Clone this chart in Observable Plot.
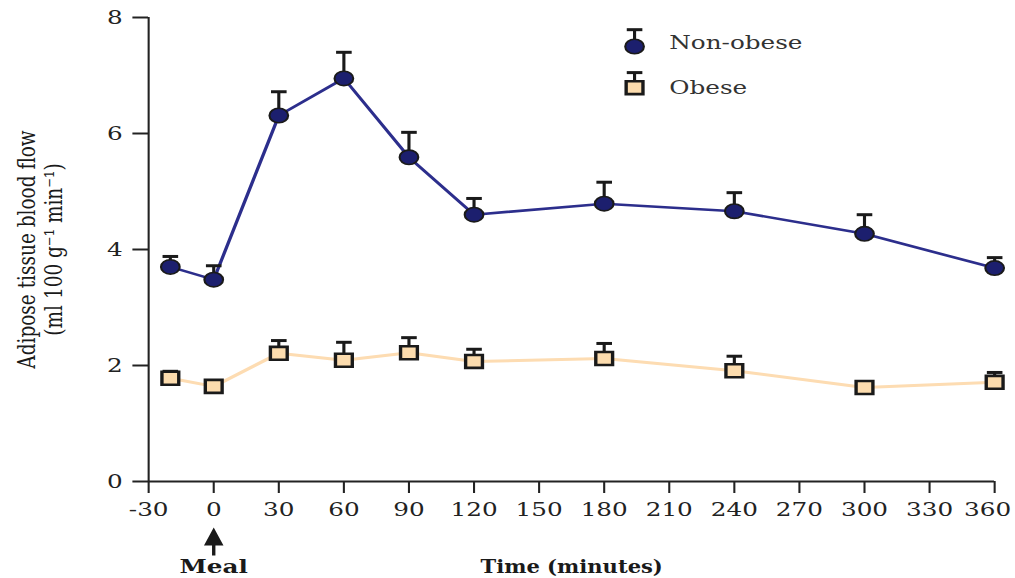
<!DOCTYPE html>
<html><head><meta charset="utf-8">
<script src="https://cdn.jsdelivr.net/npm/d3@7"></script>
<script src="https://cdn.jsdelivr.net/npm/@observablehq/plot@0.6"></script>
<style>html,body{margin:0;padding:0;background:#fff}#chart svg{display:block;overflow:visible}</style>
</head><body><div id="chart"></div>
<script>
// ---- data ----
const times = [-20, 0, 30, 60, 90, 120, 180, 240, 300, 360];
const nonObeseMean  = [3.70, 3.48, 6.31, 6.95, 5.59, 4.60, 4.79, 4.66, 4.27, 3.68];
const nonObeseUpper = [3.88, 3.72, 6.72, 7.40, 6.02, 4.88, 5.16, 4.98, 4.60, 3.86];
const obeseMean  = [1.78, 1.64, 2.21, 2.09, 2.22, 2.07, 2.12, 1.91, 1.62, 1.71];
const obeseUpper = [1.90, null, 2.43, 2.40, 2.48, 2.28, 2.38, 2.16, null, 1.88];
const seriesNames = ["Non-obese", "Obese"];
const xTicks = [-30, 0, 30, 60, 90, 120, 150, 180, 210, 240, 270, 300, 330, 360];
const yTicks = [0, 2, 4, 6, 8];
const mealTime = 0;
const xTitle = "Time (minutes)";
const mealLabel = "Meal";
const yTitle = "Adipose tissue blood flow\n(ml 100 g\u207B\u00B9 min\u207B\u00B9)";

// ---- layout ----
const SCALE = 1.3, WIDTH = 1015, HEIGHT = 578;
const W = WIDTH / SCALE;
const navyLine = "#2c2e8c", navyFill = "#1c1f6e", peachLine = "#fddcb2", peachFill = "#fcdcae", ink = "#1a1a1a";

const nonObese = times.map((t, i) => ({t, mean: nonObeseMean[i], upper: nonObeseUpper[i]}));
const obese = times.map((t, i) => ({t, mean: obeseMean[i], upper: obeseUpper[i]}));
const withErr = arr => arr.filter(d => d.upper != null && d.upper > d.mean);

const capSymbol = {draw(ctx) { ctx.moveTo(-6, 0); ctx.lineTo(6, 0); }};
const arrowSymbol = {draw(ctx) {
  ctx.moveTo(0, -14); ctx.lineTo(7.5, 4); ctx.lineTo(1.3, 4); ctx.lineTo(1.3, 14);
  ctx.lineTo(-1.3, 14); ctx.lineTo(-1.3, 4); ctx.lineTo(-7.5, 4); ctx.closePath();
}};

// legend placement (data coordinates)
const legX = 194, legTextX = 210;
const legend = [
  {label: seriesNames[0], y: 7.50, cap: 7.79, textY: 7.57},
  {label: seriesNames[1], y: 6.79, cap: 7.05, textY: 6.79}
];

const lastTick = xTicks[xTicks.length - 1];
const fmt = d => String(d);
const fmtX = d => (d === lastTick ? "" : String(d));

const chart = Plot.plot({
  width: W, height: HEIGHT,
  marginLeft: 148 / SCALE, marginRight: 21 / SCALE, marginTop: 17, marginBottom: 97,
  x: {domain: [xTicks[0], lastTick]},
  y: {domain: [yTicks[0], yTicks[yTicks.length - 1]]},
  style: {fontFamily: "'DejaVu Serif', serif", fontSize: "19px", color: "#222", background: "#fff", overflow: "visible"},
  marks: [
    Plot.axisY({ticks: yTicks, tickSize: 12, tickPadding: 8, tickFormat: fmt, label: null, strokeWidth: 2, fontSize: 19}),
    Plot.axisX({ticks: xTicks, tickSize: 12, tickPadding: 9, tickFormat: fmtX, label: null, strokeWidth: 1.6, fontSize: 19}),
    Plot.text([lastTick], {x: d => d, frameAnchor: "bottom", lineAnchor: "top", dy: 21, dx: -7 / SCALE, text: fmt, fontSize: 19, fill: "#222"}),
    Plot.ruleX([xTicks[0]], {y1: yTicks[0], y2: yTicks[yTicks.length - 1], stroke: "#222", strokeWidth: 1.6}),
    Plot.ruleY([yTicks[0]], {x1: xTicks[0], x2: lastTick, stroke: "#222", strokeWidth: 2}),

    // obese series
    Plot.line(obese, {x: "t", y: "mean", stroke: peachLine, strokeWidth: 3}),
    Plot.ruleX(withErr(obese), {x: "t", y1: "mean", y2: "upper", stroke: ink, strokeWidth: 2.4}),
    Plot.dot(withErr(obese), {x: "t", y: "upper", symbol: capSymbol, stroke: ink, strokeWidth: 3, fill: "none", r: 6}),
    Plot.dot(obese, {x: "t", y: "mean", symbol: "square", r: 7.3, fill: peachFill, stroke: ink, strokeWidth: 2.6}),

    // non-obese series
    Plot.line(nonObese, {x: "t", y: "mean", stroke: navyLine, strokeWidth: 2.6}),
    Plot.ruleX(withErr(nonObese), {x: "t", y1: "mean", y2: "upper", stroke: ink, strokeWidth: 2.4}),
    Plot.dot(withErr(nonObese), {x: "t", y: "upper", symbol: capSymbol, stroke: ink, strokeWidth: 3, fill: "none", r: 6}),
    Plot.dot(nonObese, {x: "t", y: "mean", r: 7.2, fill: navyFill, stroke: ink, strokeWidth: 1.6}),

    // legend
    Plot.ruleX(legend, {x: () => legX, y1: "y", y2: "cap", stroke: ink, strokeWidth: 2.4}),
    Plot.dot(legend, {x: () => legX, y: "cap", symbol: capSymbol, stroke: ink, strokeWidth: 3, fill: "none", r: 6}),
    Plot.dot(legend.slice(0, 1), {x: () => legX, y: "y", r: 7.2, fill: navyFill, stroke: ink, strokeWidth: 1.6}),
    Plot.dot(legend.slice(1), {x: () => legX, y: "y", symbol: "square", r: 7.3, fill: peachFill, stroke: ink, strokeWidth: 2.6}),
    Plot.text(legend, {x: () => legTextX, y: "textY", text: "label", textAnchor: "start", fontSize: 19, fill: "#333"}),

    // meal arrow and titles
    Plot.dot([mealTime], {x: d => d, frameAnchor: "bottom", dy: 60, symbol: arrowSymbol, fill: ink, stroke: "none", r: 5}),
    Plot.text([mealLabel], {x: () => mealTime, frameAnchor: "bottom", dy: 91, lineAnchor: "bottom", text: d => d, fontWeight: "bold", fontSize: 19, fill: ink}),
    Plot.text([xTitle], {frameAnchor: "bottom", dy: 91, lineAnchor: "bottom", text: d => d, fontWeight: "bold", fontSize: 18, fontFamily: "'DejaVu Serif Condensed', 'DejaVu Serif', serif", fill: ink}),
    Plot.text([yTitle], {frameAnchor: "left", textAnchor: "middle", lineAnchor: "middle", dx: -(148 - 39) / SCALE, rotate: -90, text: d => d, fontSize: 18.5, lineHeight: 1.12, fill: ink})
  ]
});

chart.setAttribute("width", WIDTH);
chart.setAttribute("height", HEIGHT);
chart.setAttribute("viewBox", `0 0 ${W} ${HEIGHT}`);
chart.setAttribute("preserveAspectRatio", "none");
chart.style.width = WIDTH + "px";
chart.style.height = HEIGHT + "px";
chart.style.maxWidth = "none";
document.getElementById("chart").appendChild(chart);
</script>
</body></html>
